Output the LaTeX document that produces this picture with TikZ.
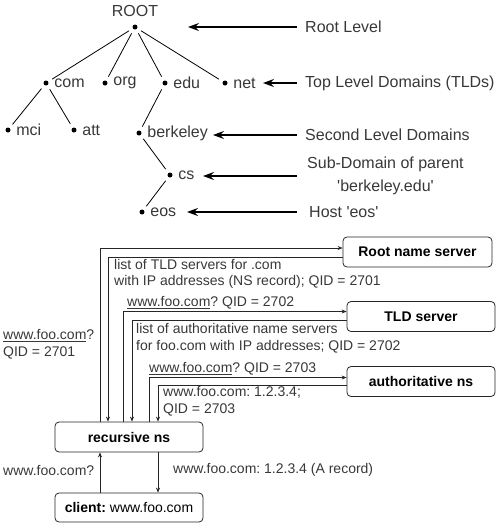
\documentclass[tikz,border=0pt]{standalone}
\usepackage{fontspec}
\setmainfont{Liberation Sans}
\frenchspacing
\usetikzlibrary{shapes,arrows.meta,positioning}
\definecolor{txt}{gray}{0.22}
\tikzstyle{dot} = [circle, fill=black, inner sep=0pt, minimum size=5pt]
\tikzstyle{leaf} = [inner sep=0pt, font=\fontsize{16}{19}\selectfont, text=txt]
\tikzstyle{lvl} = [anchor=west, inner sep=0pt, align=center, font=\fontsize{16}{23}\selectfont, text=txt]
\tikzstyle{branch} = [line width=0.8pt, shorten <=4.5pt, shorten >=4.5pt]
\tikzstyle{levelarrow} = [line width=1.2pt, shorten <=8pt, -{Stealth[length=11pt,width=8pt,inset=4pt]}]
\tikzstyle{server} = [draw=black!85, line width=0.8pt, rounded corners=4pt, minimum width=148pt, minimum height=30pt, inner sep=2pt, font=\fontsize{14}{16}\selectfont\bfseries]
\tikzstyle{msg} = [line width=0.7pt, draw=black!85, -{Stealth[length=5pt,width=4pt]}]
\tikzstyle{note} = [anchor=west, inner sep=0pt, align=left, font=\fontsize{14}{16.5}\selectfont\frenchspacing, text=txt]

\begin{document}
\begin{tikzpicture}[x=1pt,y=-1pt]
\useasboundingbox (0,0) rectangle (501,528);

% domain tree
\node[dot] (root) at (135,27) {};
\node[leaf, above=7pt of root] (root-t) {ROOT};
\foreach \n/\x/\y in {com/46/83, org/105/83, edu/165/83, net/225/83, mci/8/130, att/74/130, berkeley/139/133, cs/170/175, eos/142/212}{
  \node[dot] (\n) at (\x,\y) {};
  \node[leaf, right=5.5pt of \n] (\n-t) {\n};
}
\foreach \a/\b in {root/com, root/org, root/edu, root/net, com/mci, com/att, edu/berkeley, berkeley/cs, cs/eos}
  \draw[branch] (\a) -- (\b);

% levels
\node[lvl] (lvroot) at (305,27) {Root Level};
\node[lvl] (lvtld) at (305,83) {Top Level Domains (TLDs)};
\node[lvl] (lvsld) at (305,135) {Second Level Domains};
\node[lvl] (lvsub) at (307,176) {Sub-Domain of parent\\\textquotesingle berkeley.edu\textquotesingle};
\node[lvl] (lvhost) at (309,212) {Host \textquotesingle eos\textquotesingle};
\coordinate (tiproot) at (188,27);
\coordinate (tiptld) at (263,83);
\coordinate (tipsld) at (213,135);
\coordinate (tipsub) at (203,176);
\coordinate (tiphost) at (187,212);
\draw[levelarrow] (lvroot.west) -- (tiproot);
\draw[levelarrow] (lvtld.west) -- (tiptld);
\draw[levelarrow] (lvsld.west) -- (tipsld);
\draw[levelarrow, shorten <=10pt] (lvsub.west) -- (tipsub);
\draw[levelarrow, shorten <=12pt] (lvhost.west) -- (tiphost);

% name servers
\node[server, minimum width=149pt] (rootns) at (417.5,252) {Root name server};
\node[server] (tld) at (421,316.5) {TLD server};
\node[server] (auth) at (421,381.5) {authoritative ns};
\node[server] (rns) at (129,437) {recursive ns};
\node[server, minimum height=29pt] (client) at (129,507.5) {client: \mdseries www.foo.com};

% queries and replies
\draw[msg] ([xshift=-29pt]rns.north) |- ([yshift=4pt]rootns.west);
\draw[msg] ([yshift=-5pt]rootns.west) -| ([xshift=-21pt]rns.north);
\draw[msg] ([xshift=-6pt]rns.north) |- ([yshift=5pt]tld.west);
\draw[msg] ([yshift=-4pt]tld.west) -| ([xshift=3pt]rns.north);
\draw[msg] ([xshift=20pt]rns.north) |- ([yshift=4pt]auth.west);
\draw[msg] ([yshift=-4pt]auth.west) -| ([xshift=29pt]rns.north);
\draw[msg] ([xshift=-29pt]client.north) -- ([xshift=-29pt]rns.south);
\draw[msg] ([xshift=29pt]rns.south) -- ([xshift=29pt]client.north);

\node[note] (q1) at (3,344.5) {\underline{www.foo.com}?\\QID = 2701};
\node[note] (r1) at (114,274) {list of TLD servers for .com\\with IP addresses (NS record); QID = 2701};
\node[note] (q2) at (127,303) {\underline{www.foo.com}? QID = 2702};
\node[note] (r2) at (136,338) {list of authoritative name servers\\for foo.com with IP addresses; QID = 2702};
\node[note] (q3) at (149,369) {\underline{www.foo.com}? QID = 2703};
\node[note] (r3) at (163,401.5) {www.foo.com: 1.2.3.4;\\QID = 2703};
\node[note] (q0) at (3,470) {www.foo.com?};
\node[note] (r0) at (173,470) {www.foo.com: 1.2.3.4 (A record)};
\end{tikzpicture}
\end{document}
